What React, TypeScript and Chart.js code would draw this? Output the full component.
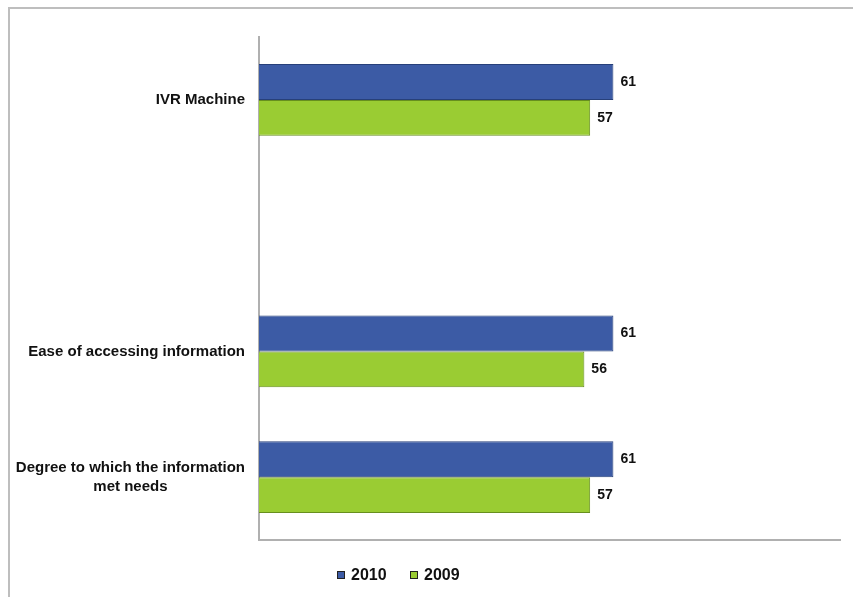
import React, { useEffect, useRef } from "react";
import { Chart, registerables } from "chart.js";

Chart.register(...registerables);

const categories: (string | string[])[] = [
  "IVR Machine",
  "",
  "Ease of accessing information",
  ["Degree to which the information", "met needs"],
];
const seriesNames = ["2010", "2009"];
const values2010: (number | null)[] = [61, null, 61, 61];
const values2009: (number | null)[] = [57, null, 56, 57];
const seriesColors = ["#3C5BA5", "#9ACC33"];
const seriesBorders = ["#27407A", "#678F1E"];

const FONT = "'Liberation Sans', Arial, sans-serif";

const customPlugin = {
  id: "customDraw",
  afterDraw(chart: any) {
    const ctx = chart.ctx as CanvasRenderingContext2D;
    const yScale = chart.scales.y;
    const area = chart.chartArea;
    ctx.save();
    // category labels
    ctx.fillStyle = "#111";
    ctx.font = `bold 15px ${FONT}`;
    ctx.textBaseline = "middle";
    const labelRight = area.left - 14;
    categories.forEach((lab, i) => {
      const y = yScale.getPixelForTick(i);
      const lines = Array.isArray(lab) ? lab : [lab];
      if (!lines[0]) return;
      const widths = lines.map((l) => ctx.measureText(l).width);
      const maxW = Math.max(...widths);
      const center = labelRight - maxW / 2;
      const lh = 19;
      lines.forEach((l, j) => {
        ctx.textAlign = "center";
        ctx.fillText(l, center, y + (j - (lines.length - 1) / 2) * lh);
      });
    });
    // value labels
    ctx.font = `bold 14px ${FONT}`;
    ctx.textAlign = "left";
    chart.data.datasets.forEach((ds: any, di: number) => {
      const meta = chart.getDatasetMeta(di);
      meta.data.forEach((bar: any, i: number) => {
        const v = ds.data[i];
        if (v == null) return;
        ctx.fillText(String(v), bar.x + 7, bar.y);
      });
    });
    // legend
    ctx.font = `bold 16px ${FONT}`;
    const legendY = 575;
    let x = 337;
    seriesNames.forEach((name, i) => {
      ctx.fillStyle = seriesColors[i];
      ctx.fillRect(x, legendY - 4, 8, 8);
      ctx.strokeStyle = "#222";
      ctx.lineWidth = 1;
      ctx.strokeRect(x + 0.5, legendY - 3.5, 7, 7);
      ctx.fillStyle = "#111";
      ctx.textAlign = "left";
      ctx.fillText(name, x + 14, legendY + 1);
      x += 73;
    });
    ctx.restore();
  },
};

export default function App() {
  const ref = useRef<HTMLCanvasElement>(null);
  useEffect(() => {
    if (!ref.current) return;
    const chart = new Chart(ref.current, {
      type: "bar",
      data: {
        labels: categories as any,
        datasets: [
          {
            label: seriesNames[0],
            data: values2010,
            backgroundColor: seriesColors[0],
            borderColor: seriesBorders[0],
            borderWidth: 1,
          },
          {
            label: seriesNames[1],
            data: values2009,
            backgroundColor: seriesColors[1],
            borderColor: seriesBorders[1],
            borderWidth: 1,
          },
        ],
      },
      options: {
        indexAxis: "y",
        animation: false,
        responsive: false,
        maintainAspectRatio: false,
        datasets: {
          bar: { categoryPercentage: 0.57, barPercentage: 1 },
        },
        layout: { padding: { left: 259, right: 13, top: 37, bottom: 57 } },
        plugins: {
          legend: { display: false },
          tooltip: { enabled: false },
        },
        scales: {
          x: {
            min: 0,
            max: 100,
            ticks: { display: false },
            grid: { display: false, drawTicks: false },
            border: { display: true, color: "#B0B0B0", width: 2 },
          },
          y: {
            ticks: { display: false },
            grid: { display: false, drawTicks: false },
            border: { display: true, color: "#B0B0B0", width: 2 },
          },
        },
      },
      plugins: [customPlugin],
    });
    return () => chart.destroy();
  }, []);
  return (
    <div style={{ position: "absolute", left: 0, top: 0, width: 853, height: 597, background: "#fff" }}>
      <div
        style={{
          position: "absolute",
          left: 8,
          top: 7,
          width: 845,
          height: 590,
          borderTop: "2px solid #BEBEBE",
          borderLeft: "2px solid #BEBEBE",
          boxSizing: "border-box",
        }}
      />
      <canvas ref={ref} width={853} height={597} style={{ position: "absolute", left: 0, top: 0 }} />
    </div>
  );
}
